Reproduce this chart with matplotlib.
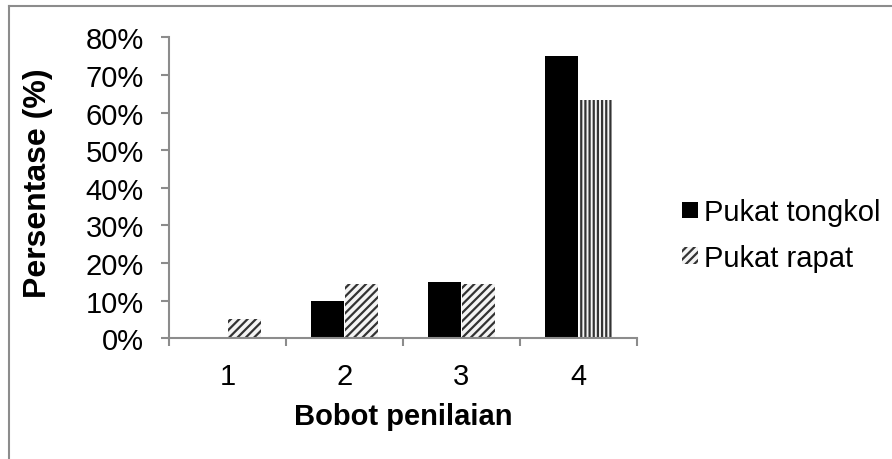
import matplotlib
matplotlib.use("Agg")
import matplotlib.pyplot as plt
import numpy as np
from matplotlib.lines import Line2D

categories = ["1", "2", "3", "4"]
series_names = ["Pukat tongkol", "Pukat rapat"]
pukat_tongkol = [0, 10, 15, 75]
pukat_rapat = [5, 14.5, 14.5, 63.4]
yticks = [0, 10, 20, 30, 40, 50, 60, 70, 80]
ytick_labels = ["0%", "10%", "20%", "30%", "40%", "50%", "60%", "70%", "80%"]

plt.rcParams['font.family'] = ['Liberation Sans', 'DejaVu Sans']
plt.rcParams['hatch.linewidth'] = 1.6

W, H = 892, 460
fig = plt.figure(figsize=(W / 100, H / 100), dpi=100)
ax = fig.add_axes([169 / W, 1 - 339.3 / H, (637 - 169) / W, (339.3 - 38.3) / H])

x = np.arange(len(categories))
bw = 0.283
off = 0.146
b1 = ax.bar(x - off, pukat_tongkol, bw, color='black', linewidth=0, label=series_names[0])
b2 = ax.bar(x + off, pukat_rapat, bw, facecolor='#f4f4f4', edgecolor='#333333',
            linewidth=0, hatch='////', label=series_names[1])
b2[3].set_hatch('||||')

ax.set_xlim(-0.5, len(categories) - 0.5)
ax.set_ylim(0, 80)
ax.set_yticks(yticks)
ax.set_yticklabels(ytick_labels)
ax.set_xticks(x)
ax.set_xticklabels(categories)
ax.set_xticks(np.arange(-0.5, len(categories), 1.0), minor=True)

spine_c = '#8c8c8c'
for s in ['top', 'right']:
    ax.spines[s].set_visible(False)
for s in ['left', 'bottom']:
    ax.spines[s].set_color(spine_c)
    ax.spines[s].set_linewidth(1.5)

ax.tick_params(axis='y', which='major', direction='out', length=6, width=1.5,
               color=spine_c, labelsize=21, pad=12)
ax.tick_params(axis='x', which='major', length=0, labelsize=21, pad=17)
ax.tick_params(axis='x', which='minor', direction='out', length=6, width=1.5, color=spine_c)

fig.text(38 / W, 1 - 183 / H, "Persentase (%)", rotation=90, fontsize=23,
         fontweight='bold', ha='center', va='center')
fig.text(403 / W, 1 - 417 / H, "Bobot penilaian", fontsize=21,
         fontweight='bold', ha='center', va='center')

leg = ax.legend(loc='center left', bbox_to_anchor=(682 / W, 1 - 236 / H),
                bbox_transform=fig.transFigure, frameon=False, fontsize=21,
                handlelength=0.55, handleheight=0.5, handletextpad=0.22,
                labelspacing=0.6, borderpad=0, borderaxespad=0)

# outer chart border (top and left edges visible)
fig.add_artist(Line2D([9 / W, 1], [1 - 7 / H, 1 - 7 / H], color='#8c8c8c', lw=1.5,
                      transform=fig.transFigure))
fig.add_artist(Line2D([9 / W, 9 / W], [0, 1 - 7 / H], color='#8c8c8c', lw=1.5,
                      transform=fig.transFigure))

fig.savefig("out.png", dpi=100)
